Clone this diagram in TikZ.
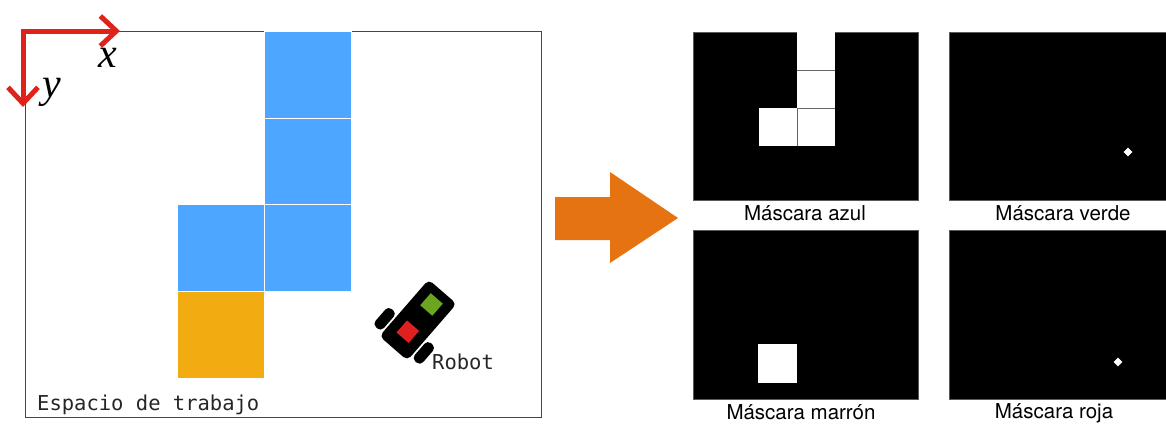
\documentclass[tikz,border=0pt]{standalone}
\usepackage{fontspec}
\setmainfont{TeX Gyre Heros}
\newfontfamily\monofont{DejaVu Sans Mono}
\newfontfamily\axisfont{Liberation Serif}
\usetikzlibrary{arrows.meta,shapes.geometric}

\definecolor{cellblue}{RGB}{77,166,255}
\definecolor{cellorange}{RGB}{242,172,18}
\definecolor{axisred}{RGB}{224,34,28}
\definecolor{flowor}{RGB}{230,115,18}
\definecolor{ledgreen}{RGB}{108,165,32}
\definecolor{ledred}{RGB}{222,32,30}
\definecolor{frame}{RGB}{70,70,70}

\begin{document}
\begin{tikzpicture}[x=1pt,y=-1pt,
  cell/.style={draw=white, line width=1pt, minimum size=87pt, inner sep=0pt, anchor=north west},
  mask/.style={fill=black, draw=gray!70!black, line width=0.8pt, inner sep=0pt, anchor=north west,
               minimum width=225pt, minimum height=168pt},
  maskcell/.style={fill=white, inner sep=0pt, minimum size=38pt, anchor=north west},
  gridline/.style={draw=gray!80!black, line width=0.8pt},
  blob/.style={diamond, fill=white, inner sep=0pt, minimum size=9pt},
  caption/.style={font=\fontsize{20.5}{24}\selectfont, inner sep=0pt, anchor=base},
  mono/.style={font=\monofont\fontsize{20.5}{24}\selectfont, inner sep=0pt, text=black!85},
  axislabel/.style={font=\axisfont\itshape\fontsize{42}{46}\selectfont, inner sep=0pt},
  axisarrow/.style={axisred, line width=5pt,
    {Straight Barb[length=16pt,width=30pt]}-{Straight Barb[length=16pt,width=30pt]}},
]
\useasboundingbox (0,0) rectangle (1166,424);

% workspace frame
\node[draw=frame, line width=0.9pt, minimum width=516pt, minimum height=386pt,
      inner sep=0pt, anchor=north west] (workspace) at (25,31) {};

% coloured cells
\node[cell, fill=cellblue] (b1) at (264,31) {};
\node[cell, fill=cellblue] (b2) at (264,117.5) {};
\node[cell, fill=cellblue] (b3) at (264,204) {};
\node[cell, fill=cellblue] (b4) at (177,204) {};
\node[cell, fill=cellorange] (o1) at (177,291) {};

% axes
\draw[axisarrow] (120,31) -- (23,31) -- (23,107);
\node[axislabel] (xlab) at (108,58) {x};
\node[axislabel] (ylab) at (52,92.5) {y};

% robot seen from above
\begin{scope}[shift={(418,320)}, rotate=-41]
  \fill[black, rounded corners=5pt] (-18.5,-37.5) rectangle (18.5,37.5);
  \fill[black, rounded corners=4.5pt] (20.5,9) rectangle (31.5,33);
  \fill[black, rounded corners=4.5pt] (-31.5,9) rectangle (-20.5,33);
  \fill[ledgreen] (-8,-28.6) rectangle (8,-12.6);
  \fill[ledred] (-8,7.5) rectangle (8,23.5);
\end{scope}
\node[mono, anchor=base west] (robotlab) at (432,369) {Robot};
\node[mono, anchor=base west] (wslab) at (37,410) {Espacio de trabajo};

% processing arrow
\fill[flowor] (555,197) -- (610,197) -- (610,172) -- (678,218) -- (610,263)
  -- (610,240) -- (555,240) -- cycle;

% masks
\node[mask] (mazul) at (693,32) {};
\node[mask, minimum width=222pt] (mverde) at (949,32) {};
\node[mask, minimum height=169pt] (mmarron) at (693,230) {};
\node[mask, minimum width=222pt, minimum height=169pt] (mroja) at (949,230) {};

\node[maskcell] (a1) at (797,32) {};
\node[maskcell] (a2) at (797,70) {};
\node[maskcell] (a3) at (797,108) {};
\node[maskcell] (a4) at (759,108) {};
\draw[gridline] (a1.south west) -- (a1.south east);
\draw[gridline] (a2.south west) -- (a2.south east);
\draw[gridline] (a3.north west) -- (a3.south west);
\node[maskcell, minimum size=39pt] (m1) at (758,344) {};

\node[blob] (dv) at (1128,152) {};
\node[blob] (dr) at (1118,362) {};

\node[caption] (capazul) at (805,220) {Máscara azul};
\node[caption] (capverde) at (1063,220) {Máscara verde};
\node[caption] (capmarron) at (801,419) {Máscara marrón};
\node[caption] (caproja) at (1054,418) {Máscara roja};
\end{tikzpicture}
\end{document}
